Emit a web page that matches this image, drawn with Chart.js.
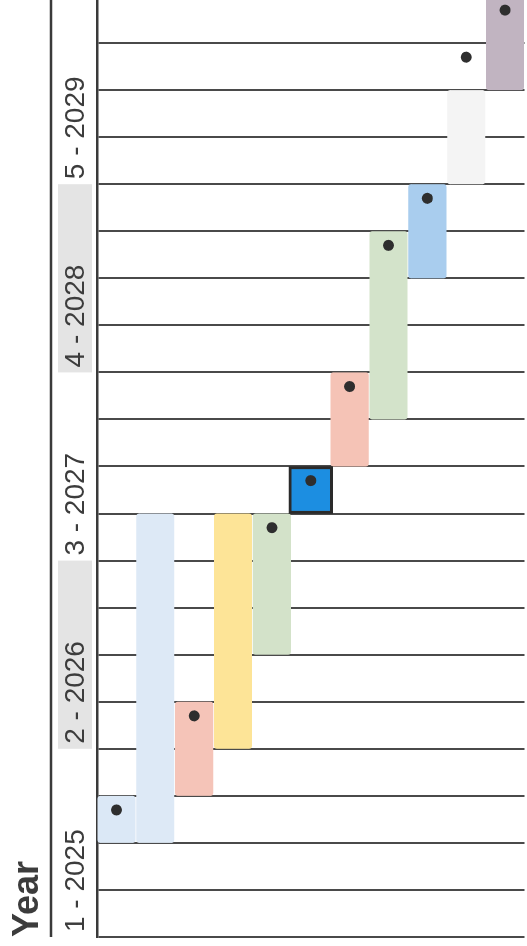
<!DOCTYPE html>
<html>
<head>
<meta charset="utf-8">
<script src="https://cdn.jsdelivr.net/npm/chart.js@4.4.1/dist/chart.umd.min.js"></script>
<style>
  html, body { margin: 0; padding: 0; background: #ffffff; overflow: hidden; width: 527px; height: 946px; }
  /* The timeline is laid out left-to-right, then turned a quarter turn so time runs upward. */
  #wrap { position: absolute; left: 0; top: 0; width: 960px; height: 530px;
          transform-origin: 0 0; transform: translate(0px, 946px) rotate(-90deg); }
  canvas { display: block; }
</style>
</head>
<body>
<div id="wrap"><canvas id="timeline" width="960" height="530"></canvas></div>
<script>
// Work packages, one lane each
const tasks = ['Task 1', 'Task 2', 'Task 3', 'Task 4', 'Task 5', 'Task 6',
               'Task 7', 'Task 8', 'Task 9', 'Task 10', 'Task 11'];

// Start and end of each package, counted in quarters from the start of 2025
const startQuarter = [2, 2, 3, 4, 6, 9, 10, 11, 14, 16, 18];
const endQuarter   = [3, 9, 5, 9, 9, 10, 12, 15, 16, 18, 20];

// Milestone marker of each package (quarters), null where there is none
const milestoneQuarter = [2.7, null, 4.7, null, 8.7, 9.7, 11.7, 14.7, 15.7, 18.7, 19.7];

// Lane colours
const laneColors = ['#dbe8f6', '#dde9f6', '#f5c4b8', '#fde497', '#d3e2c9', '#1c8ee1',
                    '#f5c3b6', '#d3e3ca', '#a9cdee', '#f4f4f4', '#c1b4c1'];

// Year labels on the time axis (four quarters each)
const yearLabels = ['1 - 2025', '2 - 2026', '3 - 2027', '4 - 2028', '5 - 2029'];
const quartersPerYear = 4;
const shadedYears = [false, true, false, true, false];

// The package currently in focus
const focusTask = 5;

const totalQuarters = yearLabels.length * quartersPerYear;

const ranges = tasks.map((t, i) => [startQuarter[i], endQuarter[i]]);

const milestonePoints = [];
tasks.forEach((t, i) => {
  if (milestoneQuarter[i] !== null) milestonePoints.push({ x: milestoneQuarter[i], y: t });
});

// Shaded year bands behind the year labels and the rule under the axis title
const yearBands = {
  id: 'yearBands',
  beforeDraw(chart) {
    const { ctx, chartArea, scales } = chart;
    const x = scales.x;
    ctx.save();
    ctx.fillStyle = '#e4e4e4';
    shadedYears.forEach((on, i) => {
      if (!on) return;
      const x0 = x.getPixelForValue(i * quartersPerYear);
      const x1 = x.getPixelForValue((i + 1) * quartersPerYear);
      ctx.fillRect(x0, chartArea.top - 39, x1 - x0, 34);
    });
    ctx.restore();
  },
  afterDraw(chart) {
    const { ctx, chartArea, scales } = chart;
    const x = scales.x;
    ctx.save();
    ctx.strokeStyle = '#3a3a3a';
    ctx.lineWidth = 2.5;
    ctx.beginPath();
    ctx.moveTo(x.left, chartArea.top - 46);
    ctx.lineTo(chart.width, chartArea.top - 46);
    ctx.stroke();
    ctx.restore();
  }
};

new Chart(document.getElementById('timeline'), {
  type: 'bar',
  data: {
    labels: tasks,
    datasets: [
      {
        type: 'scatter',
        label: 'Milestone',
        data: milestonePoints,
        pointRadius: 5.5,
        pointBackgroundColor: '#2e2e2e',
        pointBorderWidth: 0,
        order: 0
      },
      {
        label: 'In focus',
        data: ranges.map((r, i) => i === focusTask ? r : null),
        backgroundColor: laneColors,
        borderColor: '#2a2a2a',
        borderWidth: 3,
        borderSkipped: false,
        barThickness: 44,
        grouped: false,
        order: 1
      },
      {
        label: 'Packages',
        data: ranges.map((r, i) => i === focusTask ? null : r),
        backgroundColor: laneColors,
        borderWidth: 0,
        borderRadius: 3,
        borderSkipped: false,
        barPercentage: 0.98,
        categoryPercentage: 1,
        grouped: false,
        order: 2
      }
    ]
  },
  options: {
    indexAxis: 'y',
    responsive: false,
    animation: false,
    devicePixelRatio: 1,
    layout: { padding: { left: 9, right: 10, top: 6.4, bottom: 2.4 } },
    plugins: { legend: { display: false }, tooltip: { enabled: false } },
    scales: {
      x: {
        type: 'linear',
        position: 'top',
        min: 0,
        max: totalQuarters,
        z: 1,
        grid: { color: '#4a4a4a', lineWidth: 2, drawTicks: false },
        border: { display: true, color: '#3a3a3a', width: 2.5 },
        ticks: {
          stepSize: 1,
          autoSkip: false,
          maxRotation: 0,
          minRotation: 0,
          align: 'start',
          labelOffset: 5,
          padding: 4,
          color: '#3c3c3c',
          font: { family: '"Liberation Sans", Arial, sans-serif', size: 28 },
          callback: (v) => (v % quartersPerYear === 0 && v / quartersPerYear < yearLabels.length)
            ? yearLabels[v / quartersPerYear] : ''
        },
        title: {
          display: true,
          text: 'Year',
          align: 'start',
          color: '#3c3c3c',
          padding: { top: 0, bottom: 5.8 },
          font: { family: '"Liberation Sans", Arial, sans-serif', size: 36, weight: 'bold' }
        }
      },
      y: {
        type: 'category',
        display: false,
        offset: true
      }
    }
  },
  plugins: [yearBands]
});
</script>
</body>
</html>
